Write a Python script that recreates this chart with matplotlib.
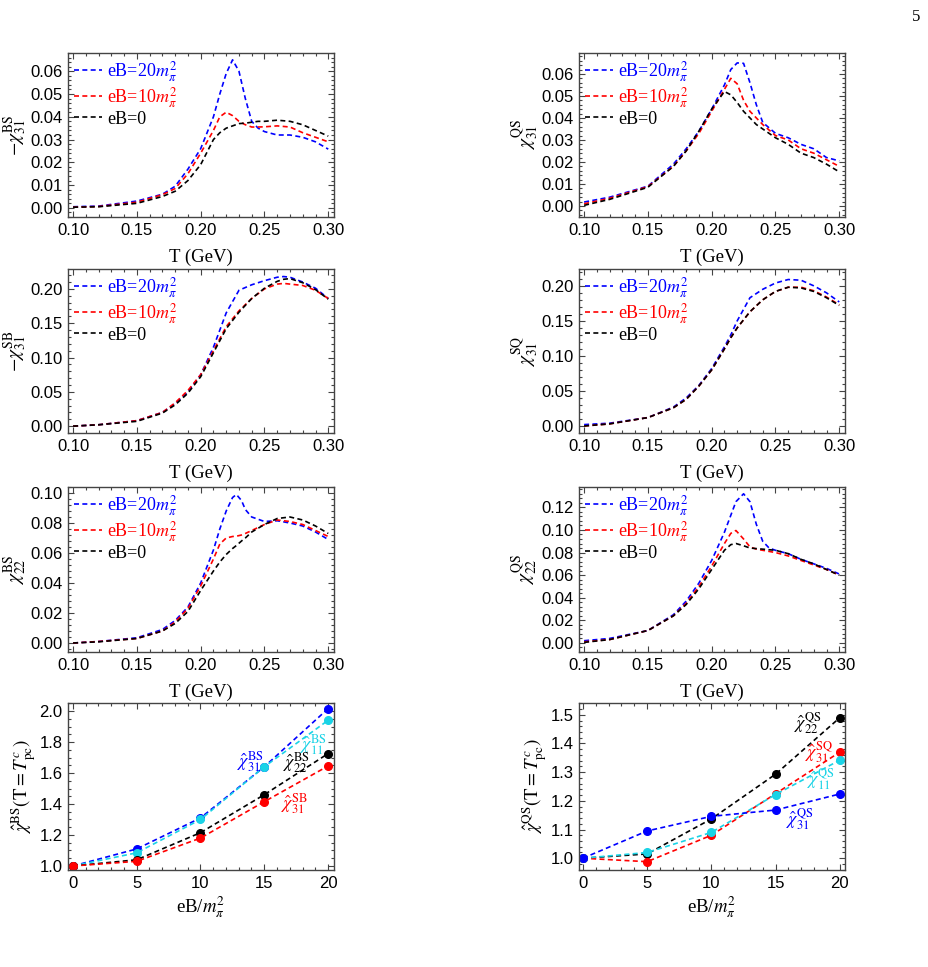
import matplotlib
matplotlib.use("Agg")
import matplotlib.pyplot as plt
from matplotlib.ticker import MultipleLocator, AutoMinorLocator

plt.rcParams['font.family'] = ['Liberation Sans', 'DejaVu Sans']
plt.rcParams['mathtext.fontset'] = 'stix'

# ---- data ----
# panel (a): -chi31^BS
T_a = [0.10, 0.12, 0.15, 0.17, 0.18, 0.19, 0.20, 0.21, 0.215, 0.22, 0.225, 0.23, 0.235,
       0.24, 0.245, 0.25, 0.26, 0.27, 0.28, 0.29, 0.30]
a_20 = [0.0005, 0.0008, 0.003, 0.006, 0.0095, 0.017, 0.026, 0.040, 0.050, 0.059, 0.065,
        0.060, 0.048, 0.038, 0.035, 0.0335, 0.032, 0.032, 0.031, 0.029, 0.0258]
a_10 = [0.0003, 0.0006, 0.0025, 0.0058, 0.0085, 0.015, 0.024, 0.034, 0.040, 0.042, 0.0405,
        0.038, 0.0365, 0.0355, 0.0355, 0.0356, 0.036, 0.0355, 0.033, 0.031, 0.029]
a_0 = [0.0003, 0.0005, 0.002, 0.005, 0.0073, 0.012, 0.019, 0.030, 0.033, 0.035, 0.036,
       0.037, 0.0372, 0.0376, 0.038, 0.038, 0.0385, 0.038, 0.0365, 0.034, 0.0315]

# panel (b): chi31^QS
T_b = [0.10, 0.12, 0.15, 0.17, 0.18, 0.19, 0.20, 0.21, 0.215, 0.22, 0.225, 0.23, 0.235,
       0.24, 0.25, 0.26, 0.27, 0.28, 0.29, 0.30]
b_20 = [0.0018, 0.004, 0.009, 0.019, 0.026, 0.034, 0.044, 0.055, 0.062, 0.065, 0.0648,
        0.056, 0.046, 0.038, 0.033, 0.031, 0.028, 0.026, 0.022, 0.0205]
b_10 = [0.001, 0.0035, 0.0088, 0.018, 0.025, 0.033, 0.043, 0.053, 0.058, 0.0555, 0.048,
        0.043, 0.040, 0.037, 0.032, 0.030, 0.026, 0.024, 0.021, 0.018]
b_0 = [0.0003, 0.003, 0.0085, 0.018, 0.025, 0.034, 0.044, 0.052, 0.0505, 0.047, 0.043,
       0.040, 0.037, 0.035, 0.031, 0.028, 0.024, 0.022, 0.019, 0.0155]

# panel (c): -chi31^SB
T_c = [0.10, 0.12, 0.15, 0.17, 0.18, 0.19, 0.20, 0.21, 0.22, 0.23, 0.24, 0.25, 0.26, 0.265,
       0.27, 0.28, 0.29, 0.30]
c_20 = [0.0, 0.002, 0.008, 0.020, 0.033, 0.050, 0.075, 0.115, 0.165, 0.198, 0.206, 0.212,
        0.217, 0.218, 0.217, 0.210, 0.201, 0.186]
c_10 = [0.0, 0.002, 0.008, 0.020, 0.034, 0.052, 0.075, 0.110, 0.145, 0.168, 0.186, 0.200,
        0.207, 0.208, 0.207, 0.205, 0.198, 0.186]
c_0 = [0.0, 0.002, 0.007, 0.019, 0.031, 0.048, 0.072, 0.107, 0.142, 0.166, 0.186, 0.201,
       0.211, 0.214, 0.215, 0.209, 0.199, 0.185]

# panel (d): chi31^SQ
T_d = [0.10, 0.12, 0.15, 0.17, 0.18, 0.19, 0.20, 0.21, 0.215, 0.22, 0.23, 0.24, 0.25, 0.26,
       0.27, 0.28, 0.29, 0.30]
d_20 = [0.002, 0.004, 0.012, 0.027, 0.040, 0.058, 0.082, 0.113, 0.130, 0.150, 0.183, 0.195,
        0.204, 0.209, 0.208, 0.200, 0.190, 0.177]
d_10 = [0.0, 0.003, 0.012, 0.026, 0.038, 0.057, 0.080, 0.110, 0.126, 0.140, 0.163, 0.180,
        0.192, 0.198, 0.198, 0.193, 0.184, 0.173]
d_0 = [0.0, 0.003, 0.012, 0.026, 0.038, 0.057, 0.080, 0.110, 0.126, 0.140, 0.163, 0.180,
       0.192, 0.198, 0.197, 0.192, 0.183, 0.172]

# panel (e): chi22^BS
T_e = [0.10, 0.12, 0.15, 0.17, 0.18, 0.19, 0.20, 0.21, 0.215, 0.22, 0.225, 0.228, 0.232,
       0.235, 0.24, 0.25, 0.26, 0.27, 0.28, 0.29, 0.30]
e_20 = [0.0, 0.001, 0.0035, 0.009, 0.015, 0.024, 0.040, 0.062, 0.076, 0.088, 0.097, 0.099,
        0.095, 0.089, 0.084, 0.081, 0.0815, 0.080, 0.078, 0.074, 0.069]
e_10 = [0.0, 0.001, 0.003, 0.008, 0.014, 0.023, 0.038, 0.056, 0.066, 0.070, 0.071, 0.0712,
        0.072, 0.073, 0.075, 0.079, 0.082, 0.081, 0.079, 0.075, 0.071]
e_0 = [0.0, 0.0008, 0.003, 0.008, 0.013, 0.021, 0.035, 0.048, 0.054, 0.059, 0.063, 0.065,
       0.068, 0.070, 0.074, 0.079, 0.083, 0.084, 0.082, 0.078, 0.073]

# panel (f): chi22^QS
T_f = [0.10, 0.12, 0.15, 0.17, 0.18, 0.19, 0.20, 0.21, 0.215, 0.219, 0.225, 0.23, 0.235,
       0.24, 0.245, 0.25, 0.26, 0.27, 0.28, 0.29, 0.30]
f_20 = [0.002, 0.004, 0.011, 0.025, 0.037, 0.053, 0.073, 0.098, 0.113, 0.125, 0.132, 0.125,
        0.105, 0.090, 0.084, 0.082, 0.079, 0.074, 0.070, 0.066, 0.061]
f_10 = [0.001, 0.003, 0.011, 0.024, 0.035, 0.050, 0.068, 0.088, 0.097, 0.0995, 0.092,
        0.085, 0.083, 0.082, 0.081, 0.080, 0.077, 0.073, 0.069, 0.065, 0.060]
f_0 = [0.0005, 0.003, 0.011, 0.024, 0.034, 0.048, 0.065, 0.082, 0.087, 0.088, 0.086,
       0.084, 0.0835, 0.083, 0.0825, 0.082, 0.079, 0.074, 0.070, 0.065, 0.060]

# panel (g): normalised BS at T_pc
eB = [0, 5, 10, 15, 20]
g_31BS = [1.0, 1.11, 1.31, 1.64, 2.015]
g_11BS = [1.0, 1.085, 1.30, 1.64, 1.94]
g_22BS = [1.0, 1.04, 1.215, 1.46, 1.725]
g_31SB = [1.0, 1.03, 1.18, 1.415, 1.645]

# panel (h): normalised QS at T_pc
h_22QS = [1.0, 1.015, 1.137, 1.293, 1.49]
h_31SQ = [1.0, 0.988, 1.08, 1.225, 1.37]
h_11QS = [1.0, 1.02, 1.09, 1.222, 1.342]
h_31QS = [1.0, 1.095, 1.146, 1.168, 1.224]

W, H = 929, 967
fig = plt.figure(figsize=(W / 100, H / 100), dpi=100)

FRAME = '#444444'
SERIF = ['Liberation Serif', 'DejaVu Serif']
DASH = (0, (3, 2))


def make_ax(x0, x1, top, bot):
    ax = fig.add_axes([x0 / W, 1 - bot / H, (x1 - x0) / W, (bot - top) / H])
    for s in ax.spines.values():
        s.set_color(FRAME)
        s.set_linewidth(1.0)
    ax.tick_params(which='both', direction='in', top=True, right=True,
                   color=FRAME, labelsize=12, width=0.8)
    ax.tick_params(which='major', length=4, pad=4)
    ax.tick_params(which='minor', length=2)
    return ax


LX = (68, 334)
RX = (579, 845)
rows = [(53, 217), (269, 433), (487, 652), (703, 870)]

T_panels = [
    (LX, rows[0], T_a, a_20, a_10, a_0, (-0.004, 0.068), 0.01, r'$-\chi_{31}^{\mathrm{BS}}$'),
    (RX, rows[0], T_b, b_20, b_10, b_0, (-0.005, 0.0695), 0.01, r'$\chi_{31}^{\mathrm{QS}}$'),
    (LX, rows[1], T_c, c_20, c_10, c_0, (-0.010, 0.229), 0.05, r'$-\chi_{31}^{\mathrm{SB}}$'),
    (RX, rows[1], T_d, d_20, d_10, d_0, (-0.010, 0.224), 0.05, r'$\chi_{31}^{\mathrm{SQ}}$'),
    (LX, rows[2], T_e, e_20, e_10, e_0, (-0.006, 0.104), 0.02, r'$\chi_{22}^{\mathrm{BS}}$'),
    (RX, rows[2], T_f, f_20, f_10, f_0, (-0.008, 0.138), 0.02, r'$\chi_{22}^{\mathrm{QS}}$'),
]

for (xs, ys, T, y20, y10, y0, ylim, ystep, ylab) in T_panels:
    ax = make_ax(xs[0], xs[1], ys[0], ys[1])
    ax.plot(T, y20, color='#0000ff', lw=1.2, ls=DASH, label=r'eB=20$m_\pi^2$')
    ax.plot(T, y10, color='#ff0000', lw=1.2, ls=DASH, label=r'eB=10$m_\pi^2$')
    ax.plot(T, y0, color='black', lw=1.2, ls=DASH, label='eB=0')
    ax.set_xlim(0.096, 0.3045)
    ax.set_ylim(*ylim)
    ax.xaxis.set_major_locator(MultipleLocator(0.05))
    ax.xaxis.set_minor_locator(AutoMinorLocator(5))
    ax.yaxis.set_major_locator(MultipleLocator(ystep))
    ax.yaxis.set_minor_locator(AutoMinorLocator(5))
    ax.xaxis.set_major_formatter(lambda v, p: f'{v:.2f}')
    ax.yaxis.set_major_formatter(lambda v, p: f'{v:.2f}')
    ax.set_xlabel('T (GeV)', fontsize=13.5, family=SERIF, labelpad=8)
    ax.set_ylabel(ylab, fontsize=14, labelpad=1)
    ax.legend(loc='upper left', bbox_to_anchor=(0, 1), borderaxespad=0,
              borderpad=0.35, frameon=False, handlelength=1.55, handletextpad=0.25,
              labelspacing=0.05, labelcolor='linecolor',
              prop={'family': SERIF, 'size': 13})

CYAN = '#1ad3e6'

# panel (g)
ax = make_ax(LX[0], LX[1], rows[3][0], rows[3][1])
for yv, col in [(g_31BS, '#0000ff'), (g_11BS, CYAN), (g_22BS, 'black'), (g_31SB, '#ff0000')]:
    ax.plot(eB, yv, color=col, lw=1.2, ls=DASH, marker='o', ms=5.5)
ax.set_xlim(-0.39, 20.47)
ax.set_ylim(0.974, 2.052)
ax.xaxis.set_major_locator(MultipleLocator(5))
ax.xaxis.set_minor_locator(AutoMinorLocator(5))
ax.yaxis.set_major_locator(MultipleLocator(0.2))
ax.yaxis.set_minor_locator(AutoMinorLocator(4))
ax.yaxis.set_major_formatter(lambda v, p: f'{v:.1f}')
ax.set_xlabel(r'eB/$m_\pi^2$', fontsize=13.5, family=SERIF, labelpad=3)
ax.set_ylabel(r'$\hat{\chi}^{\mathrm{BS}}(\mathrm{T}=T_{\mathrm{pc}}^{c})$', fontsize=13.5, labelpad=1)
ax.text(13.9, 1.675, r'$\hat{\chi}_{31}^{\mathrm{BS}}$', color='#0000ff', fontsize=13, ha='center', va='center')
ax.text(18.9, 1.785, r'$\hat{\chi}_{11}^{\mathrm{BS}}$', color=CYAN, fontsize=13, ha='center', va='center')
ax.text(17.5, 1.665, r'$\hat{\chi}_{22}^{\mathrm{BS}}$', color='black', fontsize=13, ha='center', va='center')
ax.text(17.4, 1.40, r'$\hat{\chi}_{31}^{\mathrm{SB}}$', color='#ff0000', fontsize=13, ha='center', va='center')

# panel (h)
ax = make_ax(RX[0], RX[1], rows[3][0], rows[3][1])
for yv, col in [(h_22QS, 'black'), (h_31SQ, '#ff0000'), (h_11QS, CYAN), (h_31QS, '#0000ff')]:
    ax.plot(eB, yv, color=col, lw=1.2, ls=DASH, marker='o', ms=5.5)
ax.set_xlim(-0.3, 20.4)
ax.set_ylim(0.959, 1.541)
ax.xaxis.set_major_locator(MultipleLocator(5))
ax.xaxis.set_minor_locator(AutoMinorLocator(5))
ax.yaxis.set_major_locator(MultipleLocator(0.1))
ax.yaxis.set_minor_locator(AutoMinorLocator(5))
ax.yaxis.set_major_formatter(lambda v, p: f'{v:.1f}')
ax.set_xlabel(r'eB/$m_\pi^2$', fontsize=13.5, family=SERIF, labelpad=3)
ax.set_ylabel(r'$\hat{\chi}^{\mathrm{QS}}(\mathrm{T}=T_{\mathrm{pc}}^{c})$', fontsize=13.5, labelpad=1)
ax.text(17.5, 1.469, r'$\hat{\chi}_{22}^{\mathrm{QS}}$', color='black', fontsize=13, ha='center', va='center')
ax.text(18.4, 1.369, r'$\hat{\chi}_{31}^{\mathrm{SQ}}$', color='#ff0000', fontsize=13, ha='center', va='center')
ax.text(18.5, 1.272, r'$\hat{\chi}_{11}^{\mathrm{QS}}$', color=CYAN, fontsize=13, ha='center', va='center')
ax.text(16.9, 1.134, r'$\hat{\chi}_{31}^{\mathrm{QS}}$', color='#0000ff', fontsize=13, ha='center', va='center')

# page number
fig.text(916 / W, 1 - 17 / H, '5', fontsize=12, family=SERIF, ha='center', va='center')

fig.savefig('out.png', dpi=100)
